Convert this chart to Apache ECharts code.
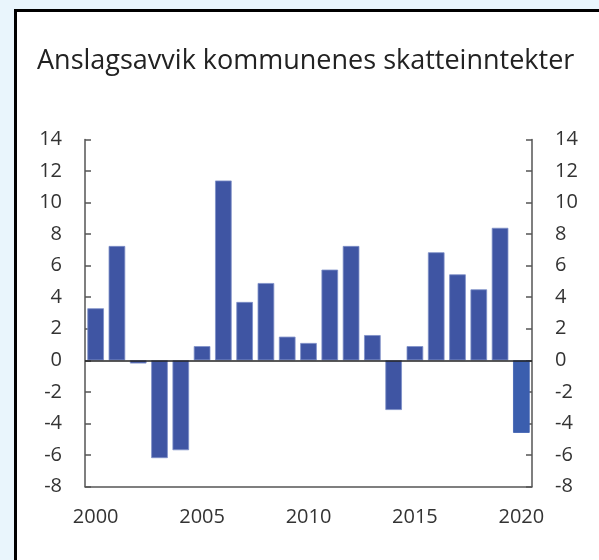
<!DOCTYPE html>
<html>
<head>
<meta charset="utf-8">
<script src="https://cdn.jsdelivr.net/npm/echarts@6/dist/echarts.min.js"></script>
<style>
    html, body { margin: 0; padding: 0; background: #e9f5fc; }
    #panel {
        position: absolute; left: 14px; top: 9px; width: 700px; height: 700px;
        background: #fff; border: 3px solid #000; box-sizing: border-box;
    }
    #container { position: absolute; left: 0; top: 0; width: 599px; height: 560px; }
</style>
</head>
<body>
<div id="panel"></div>
<div id="container"></div>
<script type="text/javascript">
    // data
    var years = ['2000','2001','2002','2003','2004','2005','2006','2007','2008','2009','2010',
                 '2011','2012','2013','2014','2015','2016','2017','2018','2019','2020'];
    var avvik = [3.3, 7.25, -0.2, -6.2, -5.7, 0.9, 11.4, 3.7, 4.9, 1.5, 1.1,
                 5.75, 7.25, 1.6, -3.15, 0.9, 6.85, 5.45, 4.5, 8.4, -4.6];
    var yMin = -8, yMax = 14, yStep = 2;

    var barColor = '#3f55a3';
    var lastColor = '#3b5eae';

    var bars = avvik.map(function (v, i) {
        if (i === avvik.length - 1) {
            return { value: v, itemStyle: { color: lastColor, borderColor: lastColor } };
        }
        return v;
    });

    var yAxisBase = {
        type: 'value',
        min: yMin, max: yMax, interval: yStep,
        axisLine: { show: true, lineStyle: { color: '#555', width: 1.5 } },
        axisTick: { show: true, inside: true, length: 6, lineStyle: { color: '#555', width: 1.5 } },
        axisLabel: { color: '#333', fontSize: 20, fontFamily: 'Open Sans', margin: 23 },
        splitLine: { show: false }
    };

    var myChart = echarts.init(document.getElementById('container'), null, { renderer: 'canvas' });
    var option = {
        animation: false,
        backgroundColor: 'transparent',
        title: {
            text: 'Anslagsavvik kommunenes skatteinntekter',
            left: 32, top: 43,
            textStyle: { fontFamily: 'Open Sans', fontWeight: 'normal', fontSize: 27, color: '#222' }
        },
        grid: { left: 85, right: 67, top: 139.5, bottom: 73.5 },
        xAxis: {
            type: 'category',
            data: years,
            axisLine: { onZero: false, lineStyle: { color: '#555', width: 1.5 } },
            axisTick: { show: false },
            axisLabel: { interval: 4, color: '#333', fontSize: 20, fontFamily: 'Open Sans', margin: 21 }
        },
        yAxis: [
            Object.assign({}, yAxisBase, { position: 'left' }),
            Object.assign({}, yAxisBase, { position: 'right' })
        ],
        series: [{
            type: 'bar',
            yAxisIndex: 0,
            data: bars,
            barCategoryGap: '22%',
            itemStyle: { color: barColor, borderColor: '#7d8fc8', borderWidth: 0.8 },
            markLine: {
                silent: true,
                symbol: 'none',
                label: { show: false },
                lineStyle: { color: '#222', width: 1.5, type: 'solid' },
                data: [{ yAxis: 0 }]
            }
        }]
    };
    myChart.setOption(option);
</script>
</body>
</html>
